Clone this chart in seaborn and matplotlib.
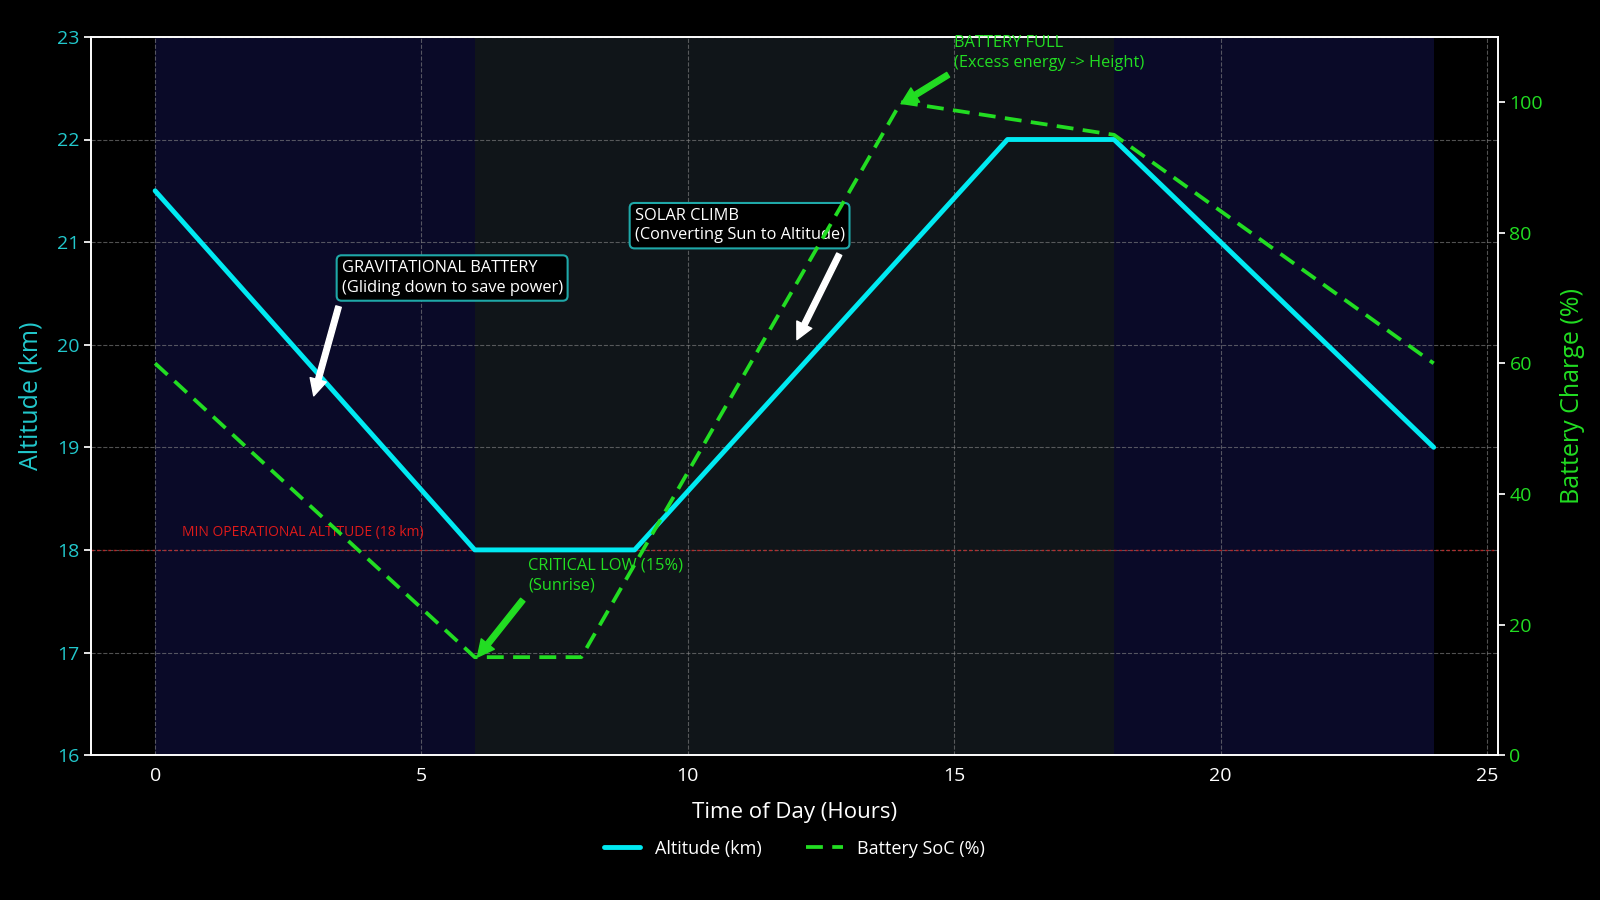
import numpy as np
import pandas as pd
import matplotlib
matplotlib.use('Agg')
import matplotlib.pyplot as plt
import seaborn as sns

# data
alt_hours = [0, 6, 9, 16, 18, 24]
alt_km = [21.5, 18, 18, 22, 22, 19]
bat_hours = [0, 6, 8, 14, 18, 24]
bat_pct = [60, 15, 15, 100, 95, 60]

night_spans = [(0, 6), (18, 24)]
day_span = (6, 18)
min_alt = 18

alt_df = pd.DataFrame({'hour': alt_hours, 'alt': alt_km})
bat_df = pd.DataFrame({'hour': bat_hours, 'soc': bat_pct})

sns.set_theme(style='dark')
plt.rcParams['font.family'] = ['Open Sans', 'DejaVu Sans']

c_alt = '#00eaf2'
c_bat = '#22dd22'
c_alt_txt = '#22c8cc'

fig = plt.figure(figsize=(16, 9), dpi=100, facecolor='black')
ax = fig.add_axes([0.057, 0.161, 0.879, 0.798])
ax.set_facecolor('black')
ax2 = ax.twinx()

for a, b in night_spans:
    ax.axvspan(a, b, color='#0a0a28', zorder=0, lw=0)
ax.axvspan(day_span[0], day_span[1], color='#101519', zorder=0, lw=0)

sns.lineplot(data=alt_df, x='hour', y='alt', ax=ax, color=c_alt, lw=3.5,
             label='Altitude (km)', legend=False, zorder=3)
sns.lineplot(data=bat_df, x='hour', y='soc', ax=ax2, color=c_bat, lw=2.7,
             dashes=False, label='Battery SoC (%)', legend=False, zorder=3)
ax2.lines[0].set_linestyle((0, (4.5, 2.5)))

ax.axhline(min_alt, color='#cc2222', lw=1, linestyle=(0, (2, 2)), alpha=0.8, zorder=2)
ax.text(0.5, min_alt + 0.1, 'MIN OPERATIONAL ALTITUDE (18 km)', color='#dd1a1a',
        fontsize=10, va='bottom')

ax.set_ylim(16, 23)
ax2.set_ylim(0, 110)
ax.set_xlim(-1.2, 25.2)
ax.set_xticks([0, 5, 10, 15, 20, 25])
ax2.set_yticks([0, 20, 40, 60, 80, 100])

ax.grid(True, color='#888888', linestyle='--', lw=0.8, alpha=0.6)
ax2.grid(False)

ax.set_xlabel('Time of Day (Hours)', color='white', fontsize=16, labelpad=12)
ax.set_ylabel('Altitude (km)', color=c_alt_txt, fontsize=18, labelpad=10)
ax2.set_ylabel('Battery Charge (%)', color=c_bat, fontsize=18, labelpad=12)
ax.tick_params(axis='x', colors='white', labelsize=14, length=5)
ax.tick_params(axis='y', colors='white', labelcolor=c_alt_txt, labelsize=14, length=5)
ax2.tick_params(axis='y', colors='white', labelcolor=c_bat, labelsize=14, length=5)
for a in (ax, ax2):
    for s in a.spines.values():
        s.set_color('white')
        s.set_linewidth(1.2)

box = dict(boxstyle='round,pad=0.3', fc='black', ec='#1fa8a8', lw=1.5)
arrow_w = dict(facecolor='white', edgecolor='white', shrink=0.05,
               width=4, headwidth=12, headlength=12)
arrow_g = dict(facecolor=c_bat, edgecolor=c_bat, shrink=0.05,
               width=4, headwidth=12, headlength=12)
ax.annotate('GRAVITATIONAL BATTERY\n(Gliding down to save power)',
            xy=(2.95, 19.45), xytext=(3.5, 20.65), color='white', fontsize=11.8,
            ha='left', va='center', bbox=box, zorder=6, linespacing=1.3,
            arrowprops=arrow_w)
ax.annotate('SOLAR CLIMB\n(Converting Sun to Altitude)',
            xy=(12.0, 20.0), xytext=(9.0, 21.16), color='white', fontsize=11.8,
            ha='left', va='center', bbox=box, zorder=6, linespacing=1.3,
            arrowprops=arrow_w)
ax2.annotate('CRITICAL LOW (15%)\n(Sunrise)', xy=(6.0, 14.5), xytext=(7.0, 27.5),
             color=c_bat, fontsize=11.8, ha='left', va='center', zorder=6,
             linespacing=1.3, arrowprops=arrow_g)
ax2.annotate('BATTERY FULL\n(Excess energy -> Height)', xy=(13.95, 99.5), xytext=(15.0, 107.5),
             color=c_bat, fontsize=11.8, ha='left', va='center', zorder=6,
             linespacing=1.3, arrowprops=arrow_g)

h1, l1 = ax.get_legend_handles_labels()
h2, l2 = ax2.get_legend_handles_labels()
leg = fig.legend(h1 + h2, l1 + l2, loc='center', bbox_to_anchor=(0.4965, 0.057),
                 ncol=2, frameon=False, fontsize=13, columnspacing=2.5)
for t in leg.get_texts():
    t.set_color('white')

fig.savefig('out.png', dpi=100, facecolor='black')
